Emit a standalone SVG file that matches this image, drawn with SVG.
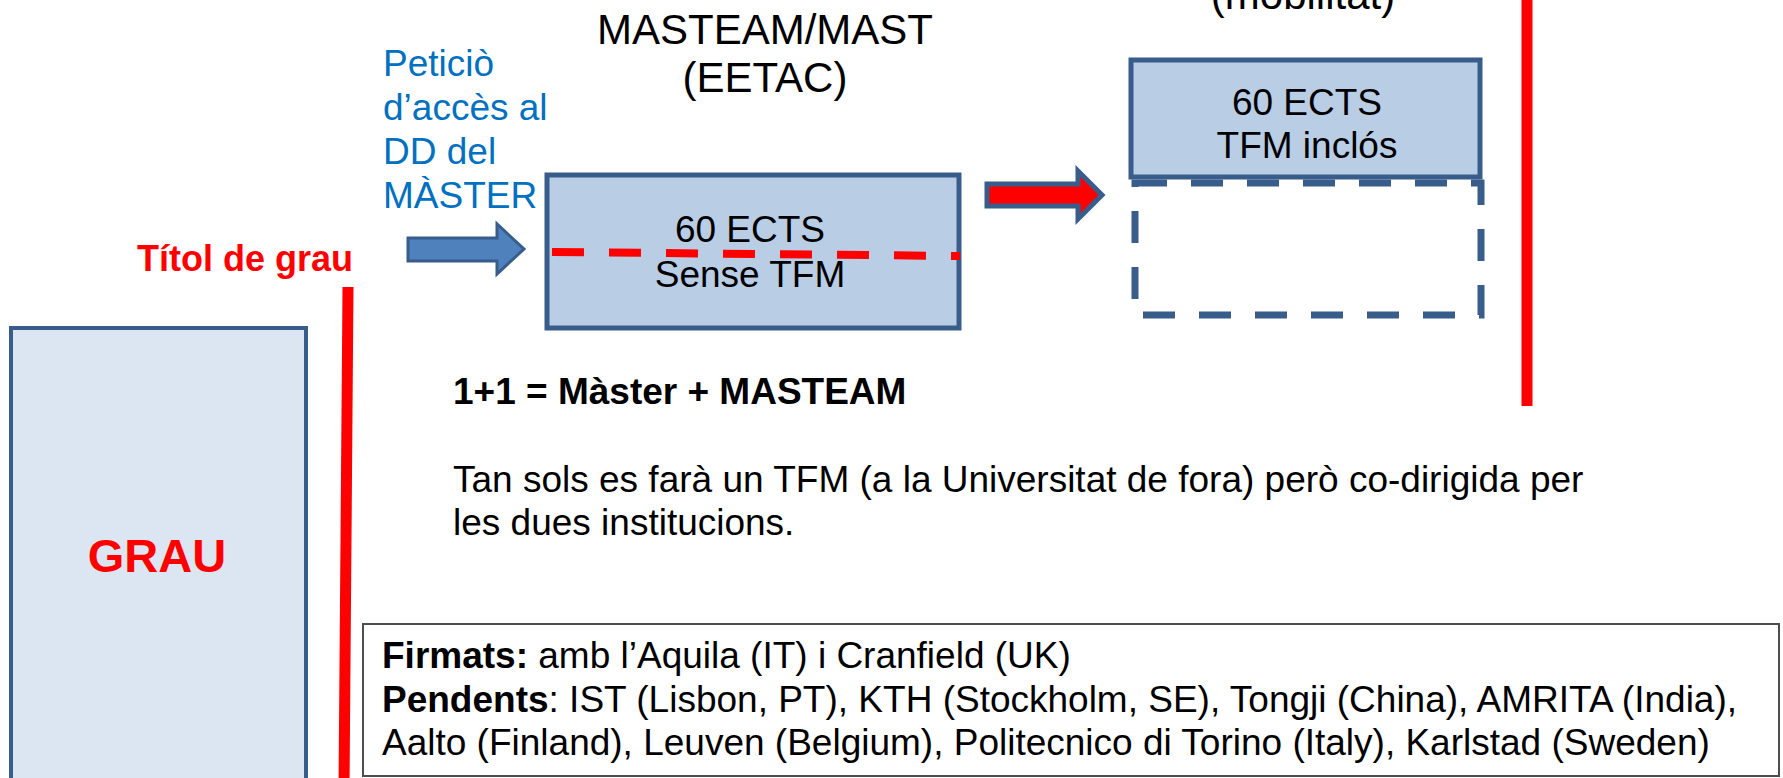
<svg xmlns="http://www.w3.org/2000/svg" width="1783" height="778" viewBox="0 0 1783 778">
<style>
text { font-family: "Liberation Sans", Arial, sans-serif; font-size: 37px; fill: #000; }
.b { font-weight: bold; }
.blue { fill: #0070C0; }
.red { fill: #FF0000; }
.title { font-size: 42px; text-anchor: middle; }
.c { text-anchor: middle; }
.box { fill: #B9CDE5; stroke: #385D8A; stroke-width: 5; }
.divider { stroke: #FF0000; stroke-width: 11; fill: none; }
</style>
<rect width="1783" height="778" fill="#FFFFFF"/>

<g id="dividers">
  <line class="divider" x1="348" y1="287" x2="344" y2="790"/>
  <line class="divider" x1="1527" y1="-5" x2="1527" y2="406"/>
</g>

<g id="grau">
  <rect x="11" y="328" width="295" height="460" fill="#DCE6F2" stroke="#385D8A" stroke-width="4"/>
  <text x="157" y="572" class="b red c" style="font-size:47px">GRAU</text>
</g>

<g id="titol-grau">
  <text x="353" y="271" class="b red" text-anchor="end" style="font-size:36px">Títol de grau</text>
</g>

<g id="peticio">
  <text class="blue" x="383" y="76">Peticiò</text>
  <text class="blue" x="383" y="120">d’accès al</text>
  <text class="blue" x="383" y="164">DD del</text>
  <text class="blue" x="383" y="208">MÀSTER</text>
</g>

<g id="masteam-title">
  <text class="title" x="765" y="44">MASTEAM/MAST</text>
  <text class="title" x="765" y="92">(EETAC)</text>
</g>

<g id="masteam-box">
  <rect class="box" x="547" y="175" width="412" height="153"/>
  <text class="c" x="750" y="242">60 ECTS</text>
  <text class="c" x="750" y="287">Sense TFM</text>
  <line x1="552" y1="252" x2="960" y2="256" stroke="#FF0000" stroke-width="8" stroke-dasharray="32 25"/>
</g>

<g id="mobilitat-title">
  <text class="title" x="1303" y="9">(mobilitat)</text>
</g>

<g id="mobilitat-box">
  <rect class="box" x="1131" y="60" width="349" height="117"/>
  <text class="c" x="1307" y="115">60 ECTS</text>
  <text class="c" x="1307" y="158">TFM inclós</text>
</g>

<g id="tfm-dashed">
  <rect x="1135" y="183" width="346" height="132" fill="none" stroke="#385D8A" stroke-width="7" stroke-dasharray="32 24"/>
</g>

<g id="connectors">
  <polygon points="408,238 497,238 497,224 524,249 497,274 497,261 408,261" fill="#4F81BD" stroke="#385D8A" stroke-width="3"/>
  <polygon points="987,184 1078,184 1078,171 1102,195 1078,219 1078,206 987,206" fill="#FF0000" stroke="#385D8A" stroke-width="5"/>
</g>

<g id="notes">
  <text class="b" x="453" y="404">1+1 = Màster + MASTEAM</text>
  <text x="453" y="492">Tan sols es farà un TFM (a la Universitat de fora) però co-dirigida per</text>
  <text x="453" y="535">les dues institucions.</text>
</g>

<g id="convenis">
  <rect x="363" y="624" width="1416" height="152" fill="#FFFFFF" stroke="#4D4D4D" stroke-width="2"/>
  <text x="382" y="668"><tspan class="b">Firmats:</tspan> amb l’Aquila (IT) i Cranfield (UK)</text>
  <text x="382" y="712"><tspan class="b">Pendents</tspan>: IST (Lisbon, PT), KTH (Stockholm, SE), Tongji (China), AMRITA (India),</text>
  <text x="382" y="755">Aalto (Finland), Leuven (Belgium), Politecnico di Torino (Italy), Karlstad (Sweden)</text>
</g>
</svg>
